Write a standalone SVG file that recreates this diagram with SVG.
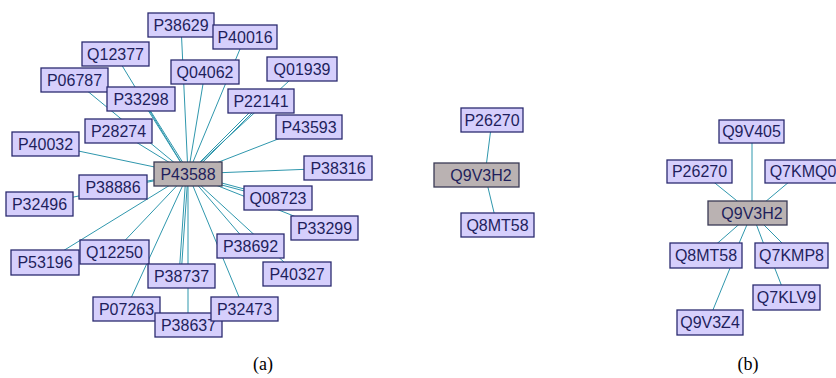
<svg xmlns="http://www.w3.org/2000/svg" width="836" height="378" viewBox="0 0 836 378">
  <style>
    .edge { stroke: #2f97ad; stroke-width: 1; fill: none; }
    .box { fill: #d6cffc; stroke: #2b2b70; stroke-width: 1.3; }
    .hub { fill: #bab2b2; stroke: #3a3a55; stroke-width: 1.3; }
    .lbl { font-family: "Liberation Sans", Arial, sans-serif; font-size: 16px; fill: #1f1f5c; text-anchor: middle; }
    .cap { font-family: "Liberation Serif", "Times New Roman", serif; font-size: 18px; fill: #000; text-anchor: middle; }
  </style>
  <rect width="836" height="378" fill="#ffffff"/>

  <!-- connectors -->
  <g id="edges">
    <!-- network (a), hub P43588 -->
    <line class="edge" x1="188" y1="174" x2="181" y2="25"/>
    <line class="edge" x1="188" y1="174" x2="245" y2="37"/>
    <line class="edge" x1="188" y1="174" x2="115" y2="54"/>
    <line class="edge" x1="188" y1="174" x2="205" y2="72"/>
    <line class="edge" x1="188" y1="174" x2="74" y2="80"/>
    <line class="edge" x1="188" y1="174" x2="141" y2="99"/>
    <line class="edge" x1="190" y1="174" x2="143" y2="99"/>
    <line class="edge" x1="188" y1="174" x2="302" y2="69"/>
    <line class="edge" x1="188" y1="174" x2="261" y2="101"/>
    <line class="edge" x1="189.5" y1="175.5" x2="262.5" y2="102.5"/>
    <line class="edge" x1="188" y1="174" x2="309" y2="127"/>
    <line class="edge" x1="188" y1="174" x2="118" y2="131"/>
    <line class="edge" x1="188" y1="174" x2="45" y2="144"/>
    <line class="edge" x1="188" y1="174" x2="338" y2="168"/>
    <line class="edge" x1="188" y1="174" x2="113" y2="187"/>
    <line class="edge" x1="188" y1="174" x2="39" y2="204"/>
    <line class="edge" x1="188" y1="174" x2="278" y2="198"/>
    <line class="edge" x1="188" y1="176" x2="278" y2="200"/>
    <line class="edge" x1="188" y1="174" x2="324" y2="228"/>
    <line class="edge" x1="188" y1="174" x2="114" y2="252"/>
    <line class="edge" x1="188" y1="174" x2="45" y2="262"/>
    <line class="edge" x1="188" y1="174" x2="250" y2="246"/>
    <line class="edge" x1="188" y1="174" x2="181" y2="276"/>
    <line class="edge" x1="186" y1="174" x2="179" y2="276"/>
    <line class="edge" x1="188" y1="174" x2="297" y2="274"/>
    <line class="edge" x1="188" y1="174" x2="126" y2="309"/>
    <line class="edge" x1="188" y1="174" x2="244" y2="309"/>
    <line class="edge" x1="188" y1="174" x2="188" y2="325"/>

    <!-- network (a), hub Q9V3H2 -->
    <line class="edge" x1="492" y1="120" x2="485" y2="175"/>
    <line class="edge" x1="485" y1="175" x2="497" y2="225"/>

    <!-- network (b), hub Q9V3H2 -->
    <line class="edge" x1="752" y1="131" x2="752" y2="213"/>
    <line class="edge" x1="700" y1="171" x2="752" y2="213"/>
    <line class="edge" x1="802" y1="171" x2="752" y2="213"/>
    <line class="edge" x1="752" y1="213" x2="712" y2="248"/>
    <line class="edge" x1="752" y1="213" x2="737" y2="248"/>
    <line class="edge" x1="752" y1="213" x2="766" y2="250"/>
    <line class="edge" x1="752" y1="213" x2="790" y2="251"/>
    <line class="edge" x1="735" y1="256" x2="708" y2="322"/>
    <line class="edge" x1="770" y1="256" x2="786" y2="297"/>
  </g>

  <!-- network (a): P43588 neighbourhood -->
  <g id="P38629"><rect class="box" x="148" y="13" width="66" height="24"/><text class="lbl" x="181" y="31">P38629</text></g>
  <g id="P40016"><rect class="box" x="213" y="25" width="64" height="24"/><text class="lbl" x="245" y="43">P40016</text></g>
  <g id="Q12377"><rect class="box" x="82" y="42" width="67" height="24"/><text class="lbl" x="115.5" y="60">Q12377</text></g>
  <g id="Q04062"><rect class="box" x="171" y="60" width="68" height="24"/><text class="lbl" x="205" y="78">Q04062</text></g>
  <g id="P06787"><rect class="box" x="41" y="68" width="67" height="24"/><text class="lbl" x="74.5" y="86">P06787</text></g>
  <g id="P33298"><rect class="box" x="107" y="87" width="68" height="24"/><text class="lbl" x="141" y="105">P33298</text></g>
  <g id="Q01939"><rect class="box" x="267" y="57" width="70" height="24"/><text class="lbl" x="302" y="75">Q01939</text></g>
  <g id="P22141"><rect class="box" x="228" y="89" width="66" height="24"/><text class="lbl" x="261" y="107">P22141</text></g>
  <g id="P43593"><rect class="box" x="276" y="115" width="66" height="24"/><text class="lbl" x="309" y="133">P43593</text></g>
  <g id="P28274"><rect class="box" x="85" y="119" width="67" height="24"/><text class="lbl" x="118.5" y="137">P28274</text></g>
  <g id="P40032"><rect class="box" x="12" y="132" width="67" height="24"/><text class="lbl" x="45.5" y="150">P40032</text></g>
  <g id="P38316"><rect class="box" x="304" y="156" width="68" height="24"/><text class="lbl" x="338" y="174">P38316</text></g>
  <g id="P38886"><rect class="box" x="79" y="175" width="68" height="24"/><text class="lbl" x="113" y="193">P38886</text></g>
  <g id="P32496"><rect class="box" x="6" y="192" width="67" height="24"/><text class="lbl" x="39.5" y="210">P32496</text></g>
  <g id="Q08723"><rect class="box" x="244" y="186" width="68" height="24"/><text class="lbl" x="278" y="204">Q08723</text></g>
  <g id="P33299"><rect class="box" x="291" y="216" width="67" height="24"/><text class="lbl" x="324.5" y="234">P33299</text></g>
  <g id="Q12250"><rect class="box" x="80" y="240" width="69" height="24"/><text class="lbl" x="114.5" y="258">Q12250</text></g>
  <g id="P53196"><rect class="box" x="11" y="250" width="68" height="25"/><text class="lbl" x="45" y="268">P53196</text></g>
  <g id="P38692"><rect class="box" x="217" y="234" width="67" height="24"/><text class="lbl" x="250.5" y="252">P38692</text></g>
  <g id="P40327"><rect class="box" x="263" y="262" width="68" height="24"/><text class="lbl" x="297" y="280">P40327</text></g>
  <g id="P38737"><rect class="box" x="148" y="264" width="67" height="24"/><text class="lbl" x="181.5" y="282">P38737</text></g>
  <g id="P07263"><rect class="box" x="93" y="297" width="67" height="24"/><text class="lbl" x="126.5" y="315">P07263</text></g>
  <g id="P38637"><rect class="box" x="155" y="313" width="67" height="24"/><text class="lbl" x="188.5" y="331">P38637</text></g>
  <g id="P32473"><rect class="box" x="211" y="297" width="67" height="24"/><text class="lbl" x="244.5" y="315">P32473</text></g>
  <g id="P43588"><rect class="hub" x="154" y="162" width="68" height="24"/><text class="lbl" x="188" y="180">P43588</text></g>

  <!-- network (a): Q9V3H2 neighbourhood -->
  <g id="a-P26270"><rect class="box" x="461" y="108" width="62" height="24"/><text class="lbl" x="492" y="126">P26270</text></g>
  <g id="a-Q9V3H2"><rect class="hub" x="434" y="163" width="85" height="24"/><text class="lbl" x="481" y="181">Q9V3H2</text></g>
  <g id="a-Q8MT58"><rect class="box" x="461" y="213" width="73" height="24"/><text class="lbl" x="497.5" y="231">Q8MT58</text></g>

  <!-- network (b) -->
  <g id="b-Q9V405"><rect class="box" x="719" y="120" width="65" height="23"/><text class="lbl" x="751.5" y="137">Q9V405</text></g>
  <g id="b-P26270"><rect class="box" x="667" y="160" width="65" height="23"/><text class="lbl" x="699.5" y="177">P26270</text></g>
  <g id="b-Q7KMQ0"><rect class="box" x="765" y="160" width="76" height="23"/><text class="lbl" x="803" y="177">Q7KMQ0</text></g>
  <g id="b-Q9V3H2"><rect class="hub" x="708" y="201" width="79" height="24"/><text class="lbl" x="752" y="219">Q9V3H2</text></g>
  <g id="b-Q8MT58"><rect class="box" x="670" y="243" width="72" height="25"/><text class="lbl" x="706" y="261">Q8MT58</text></g>
  <g id="b-Q7KMP8"><rect class="box" x="755" y="243" width="73" height="25"/><text class="lbl" x="791.5" y="261">Q7KMP8</text></g>
  <g id="b-Q7KLV9"><rect class="box" x="753" y="285" width="67" height="25"/><text class="lbl" x="786.5" y="303">Q7KLV9</text></g>
  <g id="b-Q9V3Z4"><rect class="box" x="677" y="310" width="66" height="25"/><text class="lbl" x="710" y="328">Q9V3Z4</text></g>

  <!-- sub-figure captions -->
  <text class="cap" x="263" y="370">(a)</text>
  <text class="cap" x="748" y="370">(b)</text>
</svg>
